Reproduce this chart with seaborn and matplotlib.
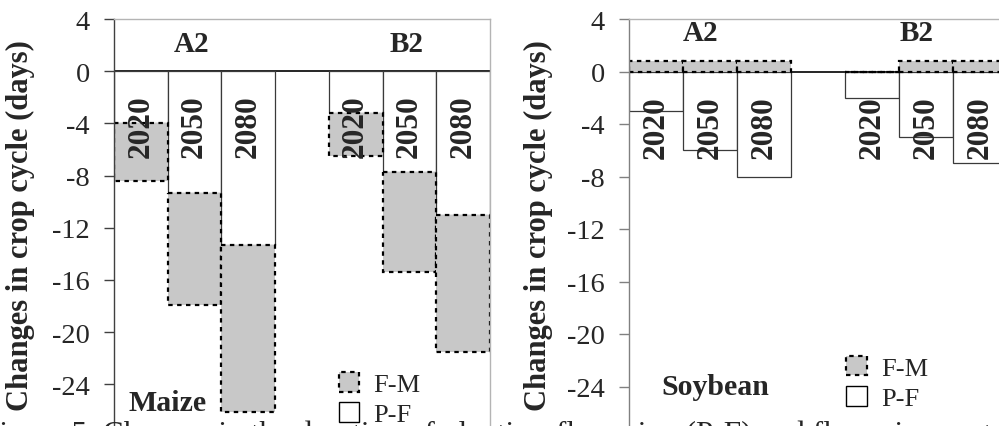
import matplotlib
matplotlib.use("Agg")
import matplotlib.pyplot as plt
import seaborn as sns
import pandas as pd
import numpy as np
from matplotlib.patches import Patch

# ---------------- data ----------------
scenarios = ["A2", "A2", "A2", "B2", "B2", "B2"]
years = ["2020", "2050", "2080", "2020", "2050", "2080"]
maize_pf = [-4.0, -9.3, -13.3, -3.2, -7.7, -11.0]
maize_fm = [-4.4, -8.6, -12.8, -3.3, -7.7, -10.5]
soy_pf = [-3.0, -6.0, -8.0, -2.0, -5.0, -7.0]
soy_fm = [0.8, 0.8, 0.8, 0.0, 0.8, 0.8]
crops = ["Maize", "Soybean"]
series_labels = ["F-M", "P-F"]
yticks = [4, 0, -4, -8, -12, -16, -20, -24]
ylabel = "Changes in crop cycle (days)"
caption = ("Figure 5. Changes in the duration of planting-flowering (P-F) and "
           "flowering-maturity (F-M)")

# ---------------- style ----------------
sns.set_theme(style="white")
plt.rcParams["font.family"] = ["Liberation Serif", "DejaVu Serif"]
plt.rcParams["axes.linewidth"] = 1.0

FM_COLOR = "#c8c8c8"
PF_EDGE = "#3a3a3a"
FRAME = "#b4b4b4"

slots = [f"{s} {y}" for s, y in zip(scenarios, years)]
order = slots[:3] + [" "] + slots[3:]

fig = plt.figure(figsize=(9.99, 4.27), dpi=100)
fig.patch.set_facecolor("white")

# axes rectangles in figure fraction (left, bottom, width, height)
rects = [(114 / 999, (427 - 437.5) / 427, 376 / 999, 417.5 / 427),
         (629 / 999, (427 - 440) / 427, 378 / 999, 420 / 427)]
scen_y = [2.1, 3.0]
scen_dx = [-0.05, -0.18]
crop_pos = [(0.49, -25.4), (1.09, -24.0)]
leg_anchor = [(0.598, 0.024), (0.575, 0.068)]
left_spine_col = ["#404040", "#808080"]
ylabel_x = [-0.21, -0.201]
ylabel_y = [0.507, 0.51]

datasets = [(maize_pf, maize_fm), (soy_pf, soy_fm)]

for i, (pf, fm) in enumerate(datasets):
    ax = fig.add_axes(rects[i])
    pf_a = np.array(pf)
    fm_a = np.array(fm)
    bottom = np.where(np.sign(fm_a) == np.sign(pf_a), pf_a, 0.0)
    df = pd.DataFrame({"slot": slots, "pf": pf_a, "fm": fm_a})

    ax.axhline(0, color="black", lw=1.2, zorder=0.5)
    sns.barplot(data=df, x="slot", y="pf", order=order, color="white",
                saturation=1, width=1.0, edgecolor=PF_EDGE, linewidth=0.9,
                errorbar=None, ax=ax, zorder=1)
    sns.barplot(data=df, x="slot", y="fm", order=order, color=FM_COLOR,
                saturation=1, width=1.0, edgecolor="black", linewidth=1.6,
                linestyle=(0, (2, 2)), errorbar=None, ax=ax, zorder=2,
                bottom=bottom)

    ax.set_ylim(-28, 4)
    ax.set_xlim(-0.5, 6.5)
    ax.set_yticks(yticks)
    ax.set_yticklabels([str(t) for t in yticks], fontsize=20.5)
    ax.set_xticks([])
    ax.set_xlabel("")
    ax.set_ylabel(ylabel, fontsize=22, fontweight="bold")
    ax.yaxis.set_label_coords(ylabel_x[i], ylabel_y[i])
    ax.tick_params(axis="y", which="both", left=True, direction="out",
                   length=7.5, width=1, color=left_spine_col[i], pad=10)

    for side in ["top", "right"]:
        ax.spines[side].set_color(FRAME)
        ax.spines[side].set_linewidth(1.0)
    ax.spines["left"].set_color(left_spine_col[i])
    ax.spines["bottom"].set_visible(False)

    # year labels inside bars
    for k, yr in enumerate(years):
        xpos = order.index(slots[k])
        ax.text(xpos, -4.2, yr, rotation=90, ha="center", va="center",
                fontsize=22.5, fontweight="bold", zorder=5)

    # scenario labels
    for s in ["A2", "B2"]:
        idx = [order.index(sl) for sl, sc in zip(slots, scenarios) if sc == s]
        ax.text(np.mean(idx) + scen_dx[i], scen_y[i], s, ha="center",
                va="center", fontsize=21, fontweight="bold")

    # crop label
    ax.text(crop_pos[i][0], crop_pos[i][1], crops[i], ha="center",
            va="center", fontsize=21.5, fontweight="bold")

    handles = [Patch(facecolor=FM_COLOR, edgecolor="black",
                     linestyle=(0, (2, 2)), linewidth=1.6),
               Patch(facecolor="white", edgecolor="black", linewidth=1.0)]
    ax.legend(handles, series_labels, loc="lower left",
              bbox_to_anchor=leg_anchor[i], frameon=False, fontsize=19,
              handlelength=0.77, handleheight=0.77, handletextpad=0.55,
              labelspacing=0.25, borderpad=0, borderaxespad=0)

fig.text(-0.018, (427 - 421) / 427, caption, ha="left", va="top",
         fontsize=22.5)

fig.savefig("out.png", dpi=100, facecolor="white")
